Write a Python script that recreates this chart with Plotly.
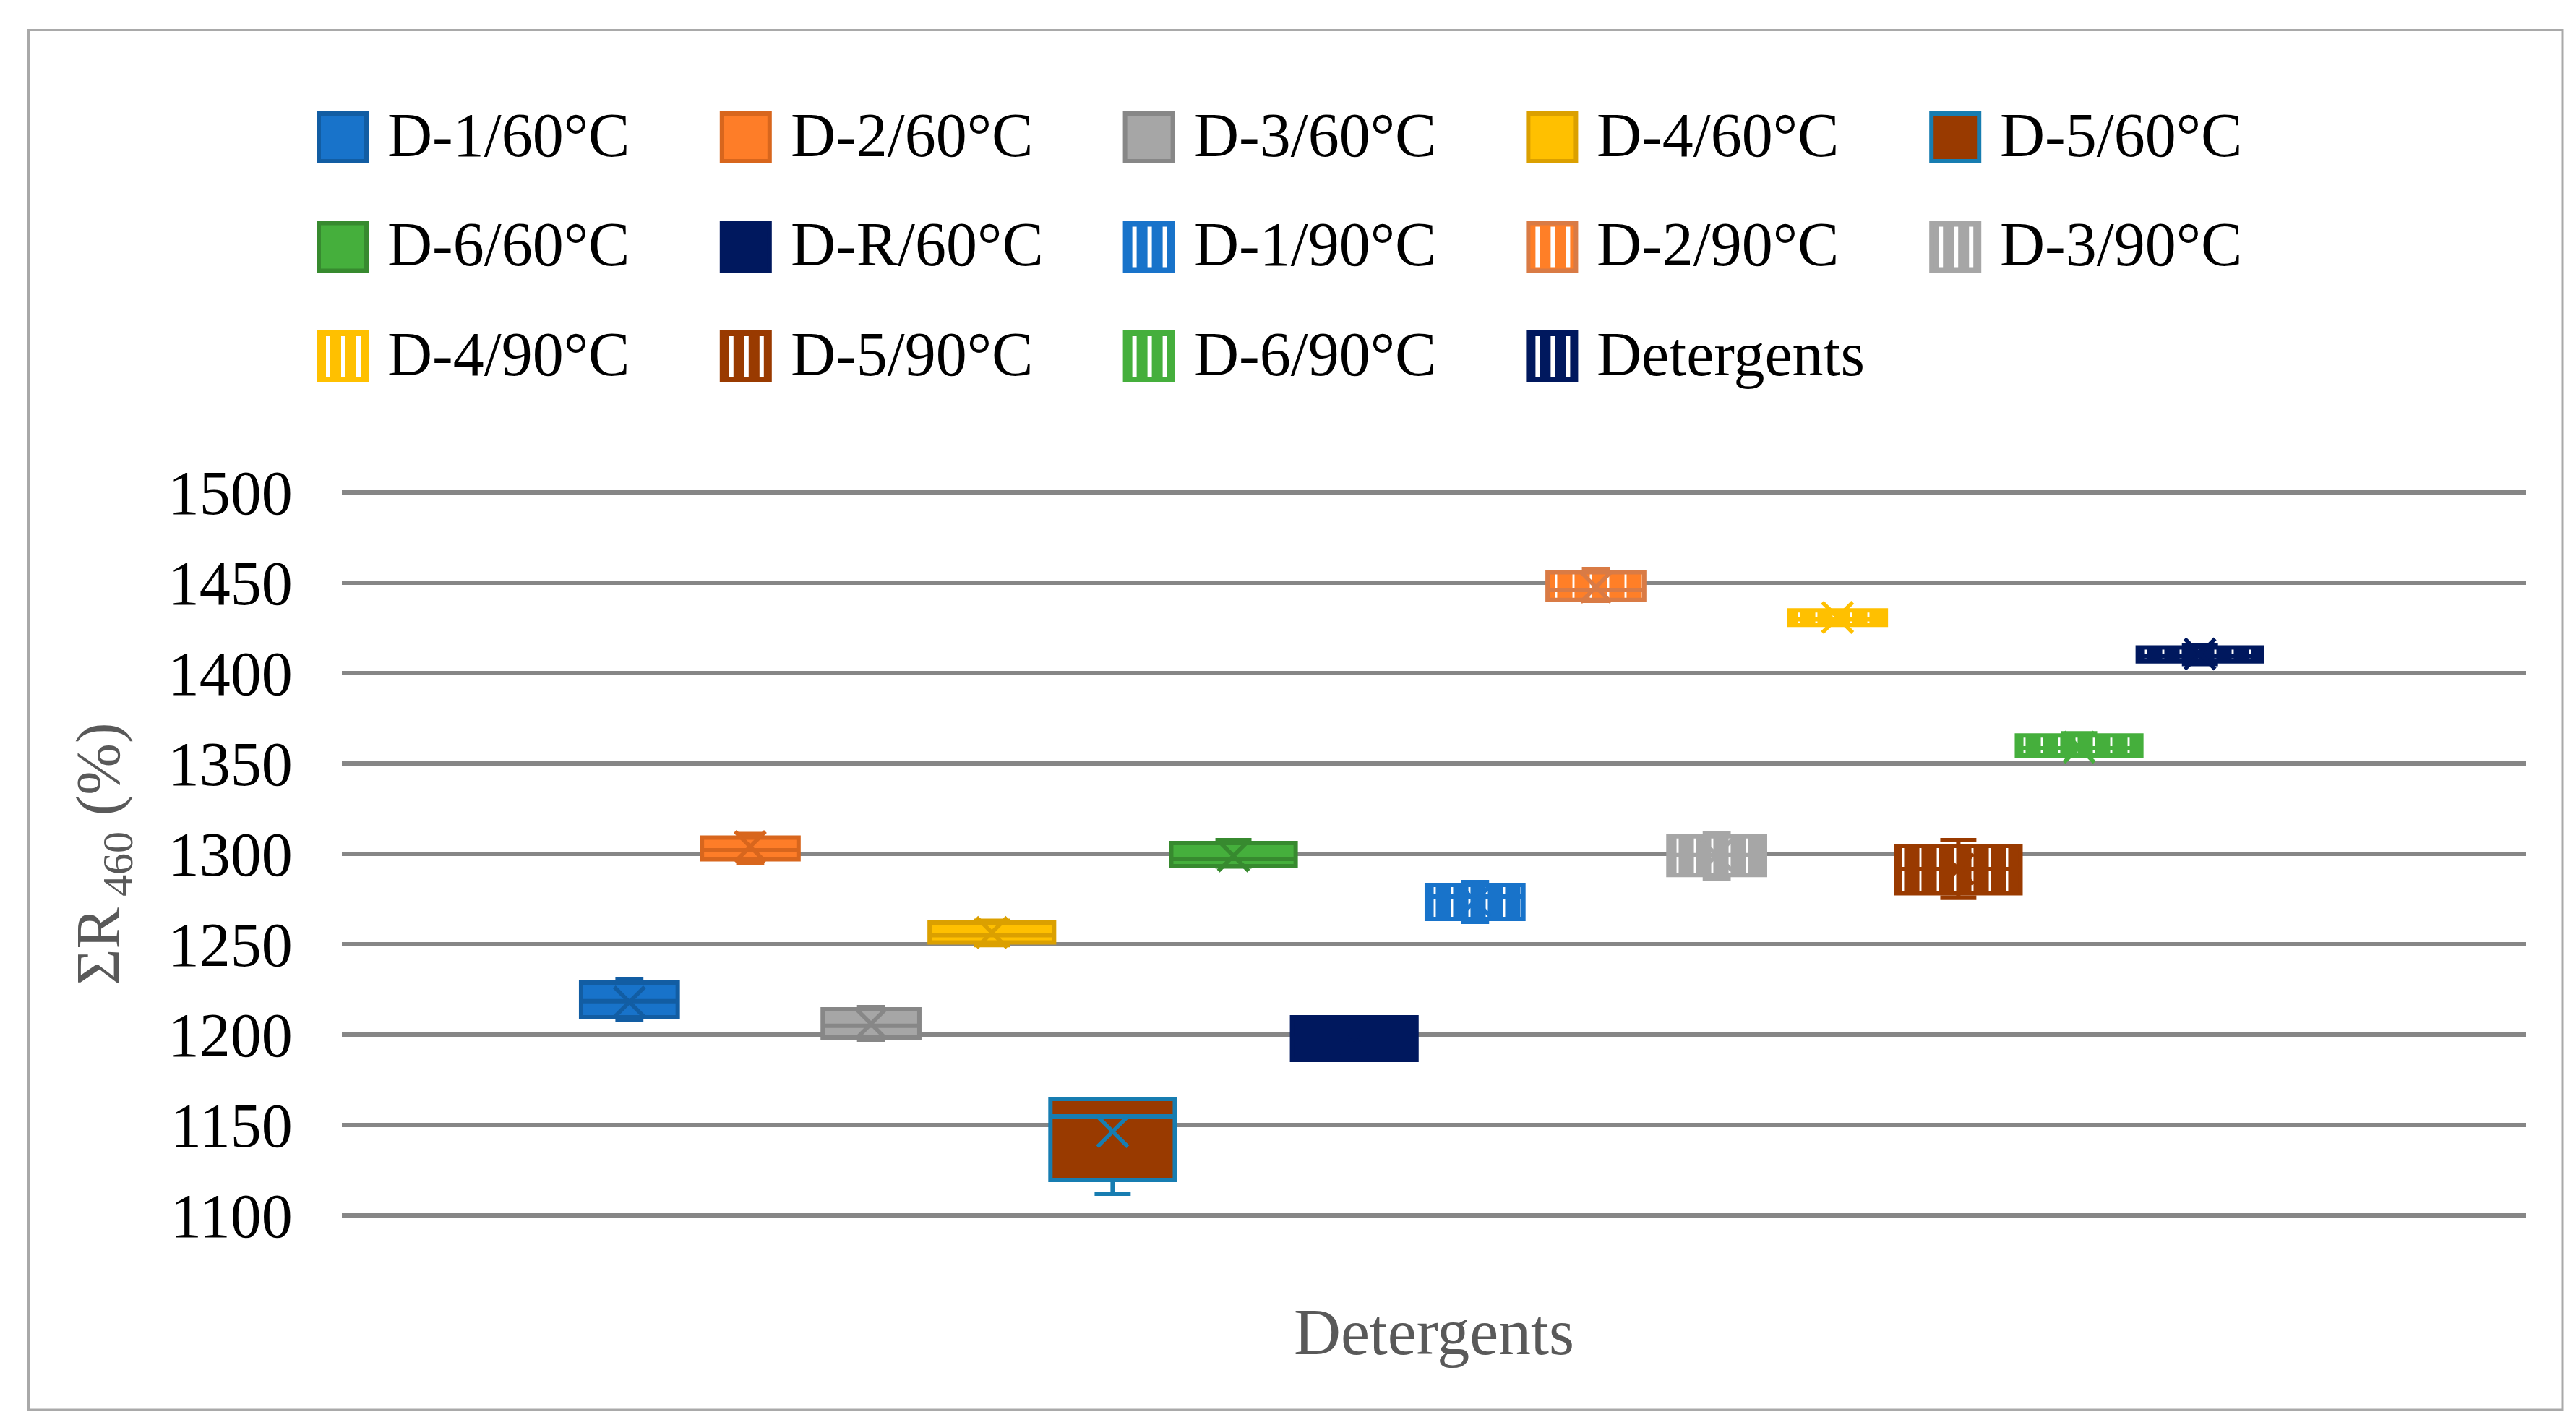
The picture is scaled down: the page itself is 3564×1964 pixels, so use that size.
import plotly.graph_objects as go

# ---------------- data ----------------
names = ["D-1/60°C", "D-2/60°C", "D-3/60°C", "D-4/60°C", "D-5/60°C", "D-6/60°C", "D-R/60°C",
         "D-1/90°C", "D-2/90°C", "D-3/90°C", "D-4/90°C", "D-5/90°C", "D-6/90°C", "Detergents"]
q1_vals     = [1209.6, 1297.0, 1198.4, 1251.0, 1119.6, 1293.2, 1186.0,
               1264.0, 1440.5, 1288.3, 1426.7, 1278.2, 1354.4, 1406.5]
median_vals = [1218.5, 1302.0, 1204.9, 1255.0, 1154.8, 1297.2, 1198.0,
               1276.4, 1446.0, 1299.3, 1429.8, 1291.6, 1358.4, 1409.3]
q3_vals     = [1228.8, 1309.0, 1214.0, 1262.0, 1164.4, 1306.0, 1209.6,
               1282.8, 1455.8, 1309.7, 1434.7, 1304.4, 1365.5, 1414.2]
lower_vals  = [1208.4, 1295.0, 1197.2, 1249.5, 1112.0, 1293.0, 1186.0,
               1262.4, 1440.0, 1286.0, 1426.7, 1275.7, 1354.4, 1405.0]
upper_vals  = [1230.8, 1311.0, 1215.2, 1263.0, 1164.4, 1307.6, 1209.6,
               1284.4, 1457.6, 1311.2, 1434.7, 1307.6, 1366.7, 1415.5]
mean_vals   = [1218.0, 1304.0, 1206.0, 1256.5, 1146.4, 1298.9, 1198.0,
               1274.0, 1447.6, 1299.3, 1430.8, 1291.6, 1359.0, 1410.6]
y_ticks = [1100, 1150, 1200, 1250, 1300, 1350, 1400, 1450, 1500]
x_title = "Detergents"
y_title = "ΣR<sub> 460</sub> (%)"

# ---------------- styles ----------------
fill_colors = ["#1873CA", "#FE7D28", "#A6A6A6", "#FFC000", "#993A00", "#45AF3C", "#00185E",
               "#1873CA", "#FF7F27", "#A6A6A6", "#FFC000", "#993A00", "#45AF3C", "#00185E"]
line_colors = ["#125DA3", "#D8661D", "#878787", "#DBA000", "#177DB1", "#378A2F", "#00185E",
               "#1873CA", "#D97B45", "#A6A6A6", "#FFC000", "#993A00", "#45AF3C", "#00185E"]
hatched = [False] * 7 + [True] * 7
box_widths = [0.8, 0.8, 0.8, 1.03, 1.03, 1.03, 1.03, 0.8, 0.8, 0.8, 0.8, 1.03, 1.03, 1.03]

W, H = 3564, 1964
PL, PR, PT, PB = 465, 3487, 671, 1675   # plot area in px
Y_RANGE = [1099.2, 1500.8]
FONT = "Liberation Serif"


def px2x(px):
    return (px - PL) / (PR - PL)


def px2y(py):
    return (PB - py) / (PB - PT)


fig = go.Figure()
positions = list(range(len(names)))

# hatched fills (pattern) under the 90°C boxes
for i, n in enumerate(names):
    if hatched[i]:
        fig.add_trace(go.Bar(
            x=[positions[i]], y=[q3_vals[i] - q1_vals[i]], base=[q1_vals[i]],
            width=box_widths[i], showlegend=False, hoverinfo="skip",
            marker=dict(color="white", line=dict(width=0),
                        pattern=dict(shape="|", fgcolor=fill_colors[i], bgcolor="white",
                                     fgopacity=1, size=24, solidity=0.88)),
        ))

for i, n in enumerate(names):
    fig.add_trace(go.Box(
        name=n, x=[positions[i]],
        q1=[q1_vals[i]], median=[median_vals[i]], q3=[q3_vals[i]],
        lowerfence=[lower_vals[i]], upperfence=[upper_vals[i]],
        width=box_widths[i], whiskerwidth=0.29,
        fillcolor="rgba(0,0,0,0)" if hatched[i] else fill_colors[i],
        line=dict(color=line_colors[i], width=6),
        showlegend=False, boxpoints=False,
    ))

# mean markers
fig.add_trace(go.Scatter(
    x=positions, y=mean_vals, mode="markers", showlegend=False, hoverinfo="skip",
    marker=dict(symbol="x-thin", size=42, color=line_colors,
                line=dict(color=line_colors, width=5.5)),
))

# manual legend (large symbols as in the original)
shapes = []
annotations = []
col_step, row_step = 557.8, 151.5
for i, n in enumerate(names):
    r, c = divmod(i, 5)
    x0 = 433 + c * col_step
    y0 = 149 + r * row_step
    s = 66
    shapes.append(dict(type="rect", xref="paper", yref="paper",
                       x0=px2x(x0), x1=px2x(x0 + s), y0=px2y(y0 + s), y1=px2y(y0),
                       fillcolor=fill_colors[i], line=dict(color=line_colors[i], width=6)))
    if hatched[i]:
        for off in (10, 31, 52):
            shapes.append(dict(type="rect", xref="paper", yref="paper",
                               x0=px2x(x0 + off), x1=px2x(x0 + off + 6),
                               y0=px2y(y0 + s - 5), y1=px2y(y0 + 5),
                               fillcolor="white", line=dict(width=0)))
    annotations.append(dict(text=n, xref="paper", yref="paper",
                            x=px2x(526 + c * col_step), y=px2y(179 + r * row_step),
                            xanchor="left", yanchor="middle", showarrow=False,
                            font=dict(family=FONT, size=86, color="#000000")))

# outer chart border
shapes.append(dict(type="rect", xref="paper", yref="paper",
                   x0=px2x(31.5), x1=px2x(3537), y0=px2y(1942), y1=px2y(33.5),
                   line=dict(color="#A9A9A9", width=3), fillcolor="rgba(0,0,0,0)", layer="below"))

fig.update_layout(
    width=W, height=H,
    margin=dict(l=PL, r=W - PR, t=PT, b=H - PB, autoexpand=False),
    paper_bgcolor="white", plot_bgcolor="white",
    barmode="overlay", boxmode="overlay",
    showlegend=False,
    shapes=shapes, annotations=annotations,
    font=dict(family=FONT, size=86, color="#000000"),
)
fig.update_xaxes(range=[-2.38, 15.70], showticklabels=False, showgrid=False, zeroline=False,
                 showline=False, ticks="",
                 title=dict(text=x_title, standoff=126,
                            font=dict(family=FONT, size=90, color="#595959")))
fig.update_yaxes(range=Y_RANGE, tickvals=y_ticks, showgrid=True, gridcolor="#868686",
                 gridwidth=5.5, zeroline=False, showline=False,
                 ticks="outside", ticklen=50, tickcolor="rgba(0,0,0,0)",
                 tickfont=dict(family=FONT, size=86, color="#000000"),
                 title=dict(text=y_title, standoff=38,
                            font=dict(family=FONT, size=86, color="#595959")))

fig.write_html("out.html")
